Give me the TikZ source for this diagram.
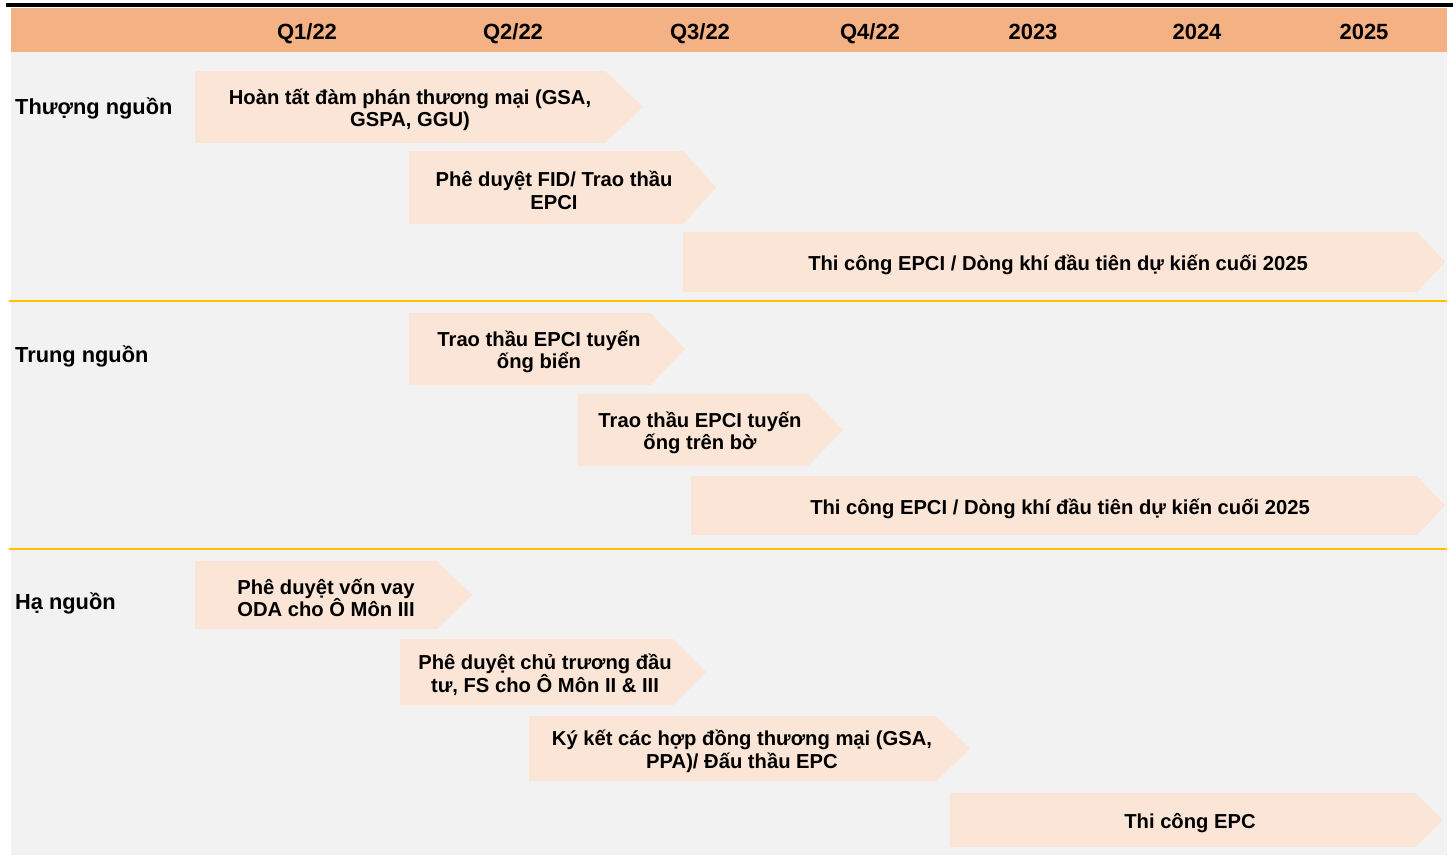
\documentclass[tikz,border=0pt]{standalone}
\usepackage{fontspec}
\setmainfont{Liberation Sans}
\definecolor{hdr}{HTML}{F4B183}
\definecolor{bgc}{HTML}{F2F2F2}
\definecolor{boxc}{HTML}{FBE5D6}
\definecolor{sepc}{HTML}{FFC000}
\newcommand\tlbox[8]{%
  \fill[boxc] (#2,#5) -- (#3,#5) -- (#4,{(#5+#6)/2}) -- (#3,#6) -- (#2,#6) -- cycle;
  \node[boxtxt] (#1) at (#7,{(#5+#6)/2+3}) {#8};}
\begin{document}
\begin{tikzpicture}[x=1pt,y=-1pt,
  boxtxt/.style={font=\fontsize{20.2}{22.5}\selectfont\bfseries, align=center, inner sep=0pt},
  hdrtxt/.style={font=\fontsize{22}{24}\selectfont\bfseries, inner sep=0pt, anchor=base},
  rowtxt/.style={font=\fontsize{21.8}{24}\selectfont\bfseries, anchor=base west, inner sep=0pt}]
\useasboundingbox (0,0) rectangle (1453,855);
% top rule, header and background
\fill[black] (6,3) rectangle (1453,7);
\fill[hdr] (11,8) rectangle (1447,51.5);
\fill[bgc] (11,51.5) rectangle (1447,855);
% header labels
\node[hdrtxt] (h1) at (307,39) {Q1/22};
\node[hdrtxt] (h2) at (513,39) {Q2/22};
\node[hdrtxt] (h3) at (700,39) {Q3/22};
\node[hdrtxt] (h4) at (870,39) {Q4/22};
\node[hdrtxt] (h5) at (1033,39) {2023};
\node[hdrtxt] (h6) at (1197,39) {2024};
\node[hdrtxt] (h7) at (1364,39) {2025};
% separators
\draw[sepc, line width=2pt] (9,300.5) -- (1447,300.5);
\draw[sepc, line width=2pt] (9,548.5) -- (1447,548.5);
% row labels
\node[rowtxt] (r1) at (15,114) {Thượng nguồn};
\node[rowtxt] (r2) at (15,362) {Trung nguồn};
\node[rowtxt] (r3) at (15,609) {Hạ nguồn};
% upstream
\tlbox{a1}{195}{605}{643}{71}{143}{410}{Hoàn tất đàm phán thương mại (GSA,\\GSPA, GGU)}
\tlbox{a2}{409}{683}{716}{151}{224}{554}{Phê duyệt FID/ Trao thầu\\EPCI}
\tlbox{a3}{683}{1417}{1445}{232}{292}{1058}{Thi công EPCI / Dòng khí đầu tiên dự kiến cuối 2025}
% midstream
\tlbox{b1}{409}{650}{685}{313}{385}{539}{Trao thầu EPCI tuyến\\ống biển}
\tlbox{b2}{578}{808}{843}{394}{466}{700}{Trao thầu EPCI tuyến\\ống trên bờ}
\tlbox{b3}{691}{1417}{1445}{476}{535}{1060}{Thi công EPCI / Dòng khí đầu tiên dự kiến cuối 2025}
% downstream
\tlbox{c1}{195}{437}{472}{561}{629}{326}{Phê duyệt vốn vay\\ODA cho Ô Môn III}
\tlbox{c2}{400}{673}{706}{639}{705}{545}{Phê duyệt chủ trương đầu\\tư, FS cho Ô Môn II \& III}
\tlbox{c3}{529}{936}{970}{716}{781}{742}{Ký kết các hợp đồng thương mại (GSA,\\PPA)/ Đấu thầu EPC}
\tlbox{c4}{950}{1415}{1443}{793}{847}{1190}{Thi công EPC}
\end{tikzpicture}
\end{document}
